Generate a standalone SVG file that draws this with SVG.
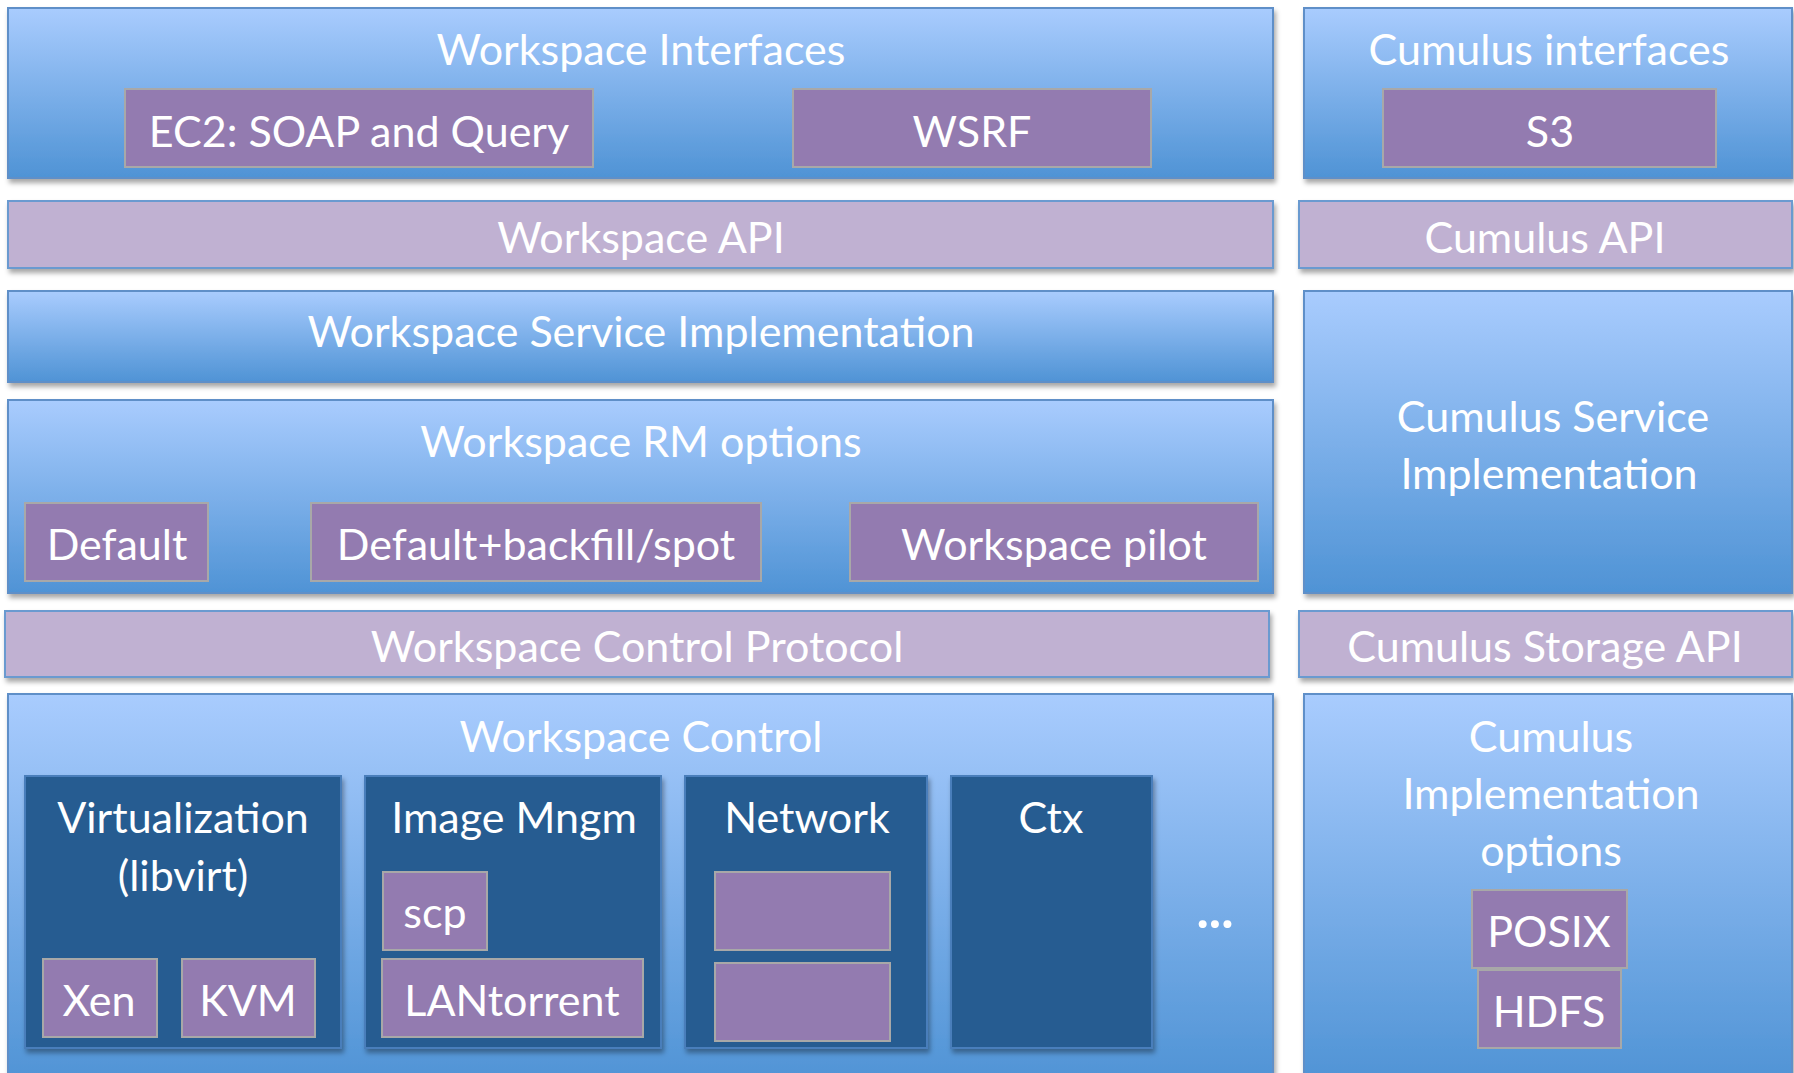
<svg xmlns="http://www.w3.org/2000/svg" width="1794" height="1073" viewBox="0 0 1794 1073">
<defs>
<linearGradient id="blueGrad" x1="0" y1="0" x2="0" y2="1">
<stop offset="0" stop-color="#A9CCFE"/>
<stop offset="1" stop-color="#4F93D5"/>
</linearGradient>
<filter id="sh" x="-5%" y="-10%" width="110%" height="125%">
<feDropShadow dx="2" dy="4" stdDeviation="2.5" flood-color="#000" flood-opacity="0.35"/>
</filter>
<style>
.layer{fill:url(#blueGrad);stroke:#5E8FC8;stroke-width:2;filter:url(#sh)}
.api{fill:#C0B1D2;stroke:#6A9AD0;stroke-width:2;filter:url(#sh)}
.opt{fill:#937BB0;stroke:#A8A8A8;stroke-width:2}
.comp{fill:#275C91;stroke:#4A7EBB;stroke-width:2;filter:url(#sh)}
text{font-family:Lato,"Liberation Sans",sans-serif;font-size:43px;fill:#FFFFFF;text-anchor:middle}
.dots{font-size:52px;font-weight:bold}
</style>
</defs>

<g id="workspace-interfaces">
<rect class="layer" x="8" y="8" width="1265" height="170"/>
<text x="641" y="65">Workspace Interfaces</text>
</g>
<g id="ec2">
<rect class="opt" x="125" y="89" width="468" height="78"/>
<text x="359" y="147">EC2: SOAP and Query</text>
</g>
<g id="wsrf">
<rect class="opt" x="793" y="89" width="358" height="78"/>
<text x="972" y="147">WSRF</text>
</g>

<g id="cumulus-interfaces">
<rect class="layer" x="1304" y="8" width="488" height="170"/>
<text x="1549" y="65">Cumulus interfaces</text>
</g>
<g id="s3">
<rect class="opt" x="1383" y="89" width="333" height="78"/>
<text x="1550" y="147">S3</text>
</g>

<g id="workspace-api">
<rect class="api" x="8" y="201" width="1265" height="67"/>
<text x="641" y="253">Workspace API</text>
</g>
<g id="cumulus-api">
<rect class="api" x="1299" y="201" width="493" height="67"/>
<text x="1545" y="253">Cumulus API</text>
</g>

<g id="workspace-service-impl">
<rect class="layer" x="8" y="291" width="1265" height="91"/>
<text x="641" y="347">Workspace Service Implementation</text>
</g>

<g id="cumulus-service-impl">
<rect class="layer" x="1304" y="291" width="488" height="302"/>
<text x="1553" y="432">Cumulus Service</text>
<text x="1549" y="489">Implementation</text>
</g>

<g id="workspace-rm-options">
<rect class="layer" x="8" y="400" width="1265" height="193"/>
<text x="641" y="457">Workspace RM options</text>
</g>
<g id="rm-default">
<rect class="opt" x="25" y="503" width="183" height="78"/>
<text x="117" y="560">Default</text>
</g>
<g id="rm-backfill">
<rect class="opt" x="311" y="503" width="450" height="78"/>
<text x="536" y="560">Default+backfill/spot</text>
</g>
<g id="rm-pilot">
<rect class="opt" x="850" y="503" width="408" height="78"/>
<text x="1054" y="560">Workspace pilot</text>
</g>

<g id="workspace-control-protocol">
<rect class="api" x="5" y="611" width="1264" height="66"/>
<text x="637" y="662">Workspace Control Protocol</text>
</g>
<g id="cumulus-storage-api">
<rect class="api" x="1299" y="611" width="493" height="66"/>
<text x="1545" y="662">Cumulus Storage API</text>
</g>

<g id="workspace-control">
<rect class="layer" x="8" y="694" width="1265" height="390"/>
<text x="641" y="752">Workspace Control</text>
</g>

<g id="virtualization">
<rect class="comp" x="25" y="776" width="316" height="272"/>
<text x="183" y="833">Virtualization</text>
<text x="183" y="891">(libvirt)</text>
</g>
<g id="xen">
<rect class="opt" x="43" y="959" width="114" height="78"/>
<text x="99" y="1016">Xen</text>
</g>
<g id="kvm">
<rect class="opt" x="182" y="959" width="133" height="78"/>
<text x="248" y="1016">KVM</text>
</g>

<g id="image-mngm">
<rect class="comp" x="365" y="776" width="296" height="272"/>
<text x="514" y="833">Image Mngm</text>
</g>
<g id="scp">
<rect class="opt" x="383" y="872" width="104" height="78"/>
<text x="435" y="928">scp</text>
</g>
<g id="lantorrent">
<rect class="opt" x="382" y="959" width="261" height="78"/>
<text x="512" y="1016">LANtorrent</text>
</g>

<g id="network">
<rect class="comp" x="685" y="776" width="242" height="272"/>
<text x="807" y="833">Network</text>
</g>
<g id="network-opt1">
<rect class="opt" x="715" y="872" width="175" height="78"/>
</g>
<g id="network-opt2">
<rect class="opt" x="715" y="963" width="175" height="78"/>
</g>

<g id="ctx">
<rect class="comp" x="951" y="776" width="201" height="272"/>
<text x="1051" y="833">Ctx</text>
</g>

<g id="more">
<text class="dots" x="1215" y="928">...</text>
</g>

<g id="cumulus-impl-options">
<rect class="layer" x="1304" y="694" width="488" height="390"/>
<text x="1551" y="752">Cumulus</text>
<text x="1551" y="809">Implementation</text>
<text x="1551" y="866">options</text>
</g>
<g id="posix">
<rect class="opt" x="1472" y="890" width="155" height="78"/>
<text x="1549" y="947">POSIX</text>
</g>
<g id="hdfs">
<rect class="opt" x="1478" y="970" width="143" height="78"/>
<text x="1549" y="1027">HDFS</text>
</g>

<g id="connectors"></g>
</svg>
